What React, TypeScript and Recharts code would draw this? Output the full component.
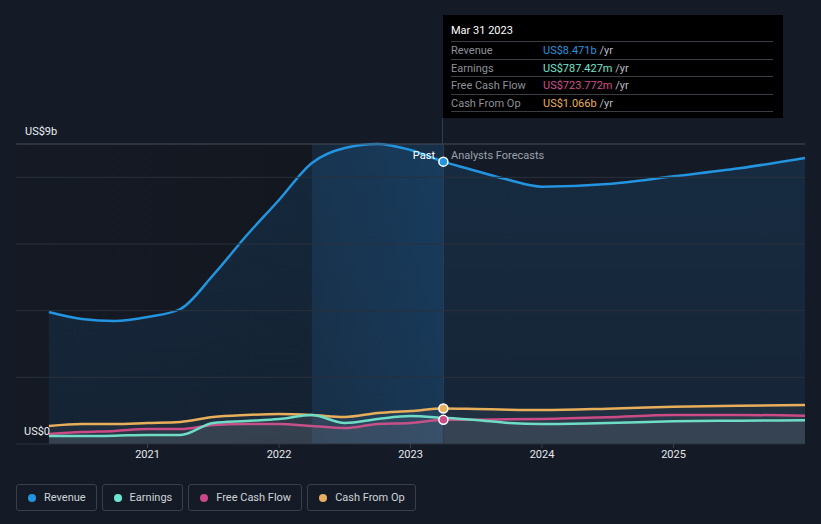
import React from 'react';
import { ComposedChart, Area, XAxis, YAxis, ReferenceLine, ReferenceArea, ReferenceDot } from 'recharts';

// quarters as decimal years; past up to 2023.25, then analyst forecasts
const periods = [2020.25, 2020.5, 2020.75, 2021, 2021.25, 2021.5, 2021.75, 2022, 2022.25, 2022.5, 2022.75, 2023, 2023.25, 2023.5, 2023.75, 2024, 2024.5, 2025, 2025.5, 2026];
const revenue = [3.96, 3.75, 3.69, 3.81, 4.05, 5.07, 6.24, 7.32, 8.43, 8.88, 9.0, 8.82, 8.471, 8.19, 7.92, 7.72, 7.8, 8.03, 8.27, 8.58];
const earnings = [0.24, 0.24, 0.25, 0.27, 0.27, 0.63, 0.69, 0.75, 0.87, 0.63, 0.75, 0.84, 0.787, 0.72, 0.63, 0.6, 0.63, 0.68, 0.7, 0.71];
const freeCashFlow = [0.3, 0.36, 0.39, 0.45, 0.45, 0.57, 0.6, 0.6, 0.54, 0.48, 0.6, 0.63, 0.724, 0.73, 0.74, 0.75, 0.8, 0.87, 0.87, 0.85];
const cashFromOp = [0.54, 0.6, 0.6, 0.63, 0.66, 0.81, 0.87, 0.9, 0.87, 0.81, 0.93, 0.99, 1.066, 1.05, 1.03, 1.02, 1.06, 1.12, 1.15, 1.17];

const yearTicks = [2021, 2022, 2023, 2024, 2025];
const gridValues = [2, 4, 6, 8];
const pastEnd = 2023.25;
const highlightStart = 2022.25;
const lastIdx = periods.indexOf(pastEnd);

const data = periods.map((p, i) => ({
  t: p,
  revenue: revenue[i],
  earnings: earnings[i],
  fcf: freeCashFlow[i],
  cfo: cashFromOp[i],
}));

const COLORS = {
  revenue: '#2394df',
  earnings: '#6fdcc6',
  fcf: '#cc4a86',
  cfo: '#e8ae5a',
};

const legendItems = [
  { name: 'Revenue', color: '#2394df' },
  { name: 'Earnings', color: '#6ee6d4' },
  { name: 'Free Cash Flow', color: '#c8488a' },
  { name: 'Cash From Op', color: '#e8ad5c' },
];

const tipRows = [
  { label: 'Revenue', value: 'US$8.471b', color: '#2394df' },
  { label: 'Earnings', value: 'US$787.427m', color: '#6fe6d2' },
  { label: 'Free Cash Flow', value: 'US$723.772m', color: '#d04f8e' },
  { label: 'Cash From Op', value: 'US$1.066b', color: '#e8b05a' },
];

const font = 'Roboto, "Open Sans", sans-serif';

const App: React.FC = () => {
  return (
    <div style={{ position: 'absolute', left: 0, top: 0, width: 821, height: 524, background: '#151b26', fontFamily: font, overflow: 'hidden' }}>
      <ComposedChart width={821} height={480} data={data} margin={{ top: 144, right: 16, left: 16, bottom: 6 }}>
        <defs>
          <linearGradient id="revFill" x1="0" y1="0" x2="0" y2="1">
            <stop offset="0%" stopColor="#1d6aa8" stopOpacity={0.35} />
            <stop offset="100%" stopColor="#1d6aa8" stopOpacity={0.2} />
          </linearGradient>
          <linearGradient id="hlFill" x1="0" y1="0" x2="1" y2="0">
            <stop offset="0%" stopColor="#1b4266" stopOpacity={0.6} />
            <stop offset="100%" stopColor="#1a5080" stopOpacity={0.8} />
          </linearGradient>
          <linearGradient id="pastFill" x1="0" y1="0" x2="1" y2="0">
            <stop offset="0%" stopColor="#12161e" stopOpacity={0.6} />
            <stop offset="100%" stopColor="#0f1218" stopOpacity={0.9} />
          </linearGradient>
        </defs>
        <XAxis
          dataKey="t"
          type="number"
          domain={[2020, 2026]}
          ticks={yearTicks}
          tickFormatter={(v) => String(v)}
          height={30}
          axisLine={{ stroke: '#2a303b' }}
          tickLine={{ stroke: '#3a404b' }}
          tickSize={4}
          tick={{ fill: '#e6e8eb', fontSize: 11, fontFamily: font }}
        />
        <YAxis hide domain={[0, 9]} ticks={[0, 2, 4, 6, 8, 9]} />
        <ReferenceArea x1={2020} x2={highlightStart} y1={0} y2={9} fill="url(#pastFill)" stroke="none" />
        <ReferenceArea x1={highlightStart} x2={pastEnd} y1={0} y2={9} fill="url(#hlFill)" stroke="none" />
        {gridValues.map((v) => (
          <ReferenceLine key={v} y={v} stroke="#2a313c" strokeWidth={1} />
        ))}
        <ReferenceLine y={9} stroke="#474d58" strokeWidth={1} />
        <ReferenceLine x={pastEnd} stroke="#2c3e50" strokeWidth={1} />
        <Area type="monotone" dataKey="revenue" stroke={COLORS.revenue} strokeWidth={2.5} fill="url(#revFill)" isAnimationActive={false} dot={false} activeDot={false} />
        <Area type="monotone" dataKey="cfo" stroke={COLORS.cfo} strokeWidth={2.5} fill="#8a8f99" fillOpacity={0.1} isAnimationActive={false} dot={false} activeDot={false} />
        <Area type="monotone" dataKey="fcf" stroke={COLORS.fcf} strokeWidth={2.5} fill="#8a8f99" fillOpacity={0.1} isAnimationActive={false} dot={false} activeDot={false} />
        <Area type="monotone" dataKey="earnings" stroke={COLORS.earnings} strokeWidth={2.5} fill="#8a8f99" fillOpacity={0.12} isAnimationActive={false} dot={false} activeDot={false} />
        <ReferenceDot x={pastEnd} y={revenue[lastIdx]} r={4.5} fill={COLORS.revenue} stroke="#ffffff" strokeWidth={1.5} />
        <ReferenceDot x={pastEnd} y={cashFromOp[lastIdx]} r={4.5} fill={COLORS.cfo} stroke="#ffffff" strokeWidth={1.5} />
        <ReferenceDot x={pastEnd} y={freeCashFlow[lastIdx]} r={4.5} fill={COLORS.fcf} stroke="#ffffff" strokeWidth={1.5} />
      </ComposedChart>

      {/* axis labels */}
      <div style={{ position: 'absolute', left: 25, top: 125, fontSize: 11, color: '#eceef0' }}>US$9b</div>
      <div style={{ position: 'absolute', left: 24, top: 425, fontSize: 11, color: '#eceef0' }}>US$0</div>

      {/* past / forecast labels */}
      <div style={{ position: 'absolute', left: 380, width: 55, top: 149, fontSize: 11, color: '#ffffff', textAlign: 'right' }}>Past</div>
      <div style={{ position: 'absolute', left: 451, top: 149, fontSize: 11, color: '#9ba1a9' }}>Analysts Forecasts</div>

      {/* connector from tooltip */}
      <div style={{ position: 'absolute', left: 442, top: 118, width: 1, height: 26, background: '#2c3e50' }} />

      {/* tooltip box */}
      <div style={{ position: 'absolute', left: 443, top: 15, width: 340, height: 103, background: '#000000' }}>
        <div style={{ position: 'absolute', left: 8, top: 9, fontSize: 11, color: '#ffffff' }}>Mar 31 2023</div>
        {tipRows.map((r, i) => (
          <div key={r.label} style={{ position: 'absolute', left: 8, top: 26 + i * 17.5, width: 322, height: 17, borderTop: '1px solid #3a3d42', fontSize: 11 }}>
            <span style={{ position: 'absolute', left: 0, top: 2, color: '#8c9198' }}>{r.label}</span>
            <span style={{ position: 'absolute', left: 92, top: 2, whiteSpace: 'nowrap' }}>
              <span style={{ color: r.color }}>{r.value}</span>
              <span style={{ color: '#b9bdc3' }}> /yr</span>
            </span>
          </div>
        ))}
        <div style={{ position: 'absolute', left: 8, top: 96, width: 322, borderTop: '1px solid #3a3d42' }} />
      </div>

      {/* legend */}
      <div style={{ position: 'absolute', left: 16, top: 484, display: 'flex', gap: 5 }}>
        {legendItems.map((it) => (
          <div key={it.name} style={{ height: 27, border: '1px solid #3a3f4a', borderRadius: 3, display: 'flex', alignItems: 'center', padding: '0 10px 0 11px', boxSizing: 'border-box', fontSize: 11, color: '#cfd3d8' }}>
            <span style={{ width: 8, height: 8, borderRadius: 4, background: it.color, marginRight: 8, display: 'inline-block' }} />
            {it.name}
          </div>
        ))}
      </div>
    </div>
  );
};

export default App;
